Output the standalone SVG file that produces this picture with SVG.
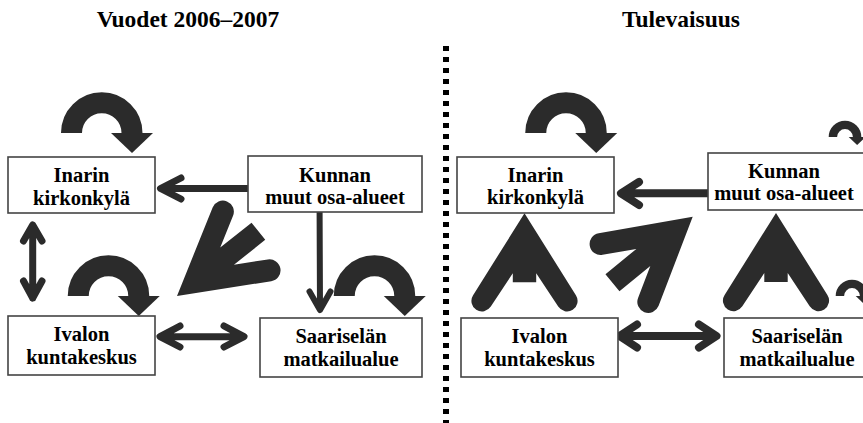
<svg xmlns="http://www.w3.org/2000/svg" width="863" height="423" viewBox="0 0 863 423">
<style>
  .box{fill:#fff;stroke:#444;stroke-width:1.6}
  .t{font-family:"Liberation Serif","Times New Roman",serif;font-weight:bold;font-size:20.5px;fill:#000;text-anchor:middle}
  .title{font-family:"Liberation Serif","Times New Roman",serif;font-weight:bold;font-size:23.5px;fill:#000;text-anchor:middle}
  .ln{fill:none;stroke:#2b2b2b;stroke-linecap:round;stroke-linejoin:round}
  .sh{fill:#2b2b2b}
</style>
<defs>
  <path id="fan" d="M0 0 L83 47.1 A11 11 0 0 0 93.8 27.9 L64 11 L104 11 L104 -11 L64 -11 L93.8 -27.9 A11 11 0 0 0 83 -47.1 Z"/>
  <path id="aglyph" d="M0 0 L81.9 51.4 A10.5 10.5 0 0 0 93.3 33.7 L60 11.7 L69 11.7 L69 -11.7 L60 -11.7 L93.3 -33.7 A10.5 10.5 0 0 0 81.9 -51.4 Z"/>
  <g id="uturn">
    <path d="M-30.25 0 A30.25 30.25 0 0 1 30.25 0" style="fill:none;stroke:#2b2b2b;stroke-width:21"/>
    <path d="M9.25 0 L51.25 0 L30.25 20 Z" style="fill:#2b2b2b"/>
  </g>
</defs>

<text class="title" x="188" y="27">Vuodet 2006–2007</text>
<text class="title" x="681" y="27">Tulevaisuus</text>

<line x1="446" y1="46" x2="446" y2="423" stroke="#000" stroke-width="6" stroke-dasharray="5 6"/>

<g id="connectors">
  <!-- left panel -->
  <use href="#uturn" x="101.75" y="133"/>
  <use href="#uturn" x="108.5" y="296"/>
  <use href="#uturn" x="374.5" y="296"/>
  <use href="#fan" class="sh" transform="translate(177 296) rotate(-38.5)"/>
  <path class="ln" stroke-width="7" d="M248 188.5 L161 188.5 M181 178 L160.5 188.5 L181 199"/>
  <path class="ln" stroke-width="6" d="M319.6 212 L320 309 M309.5 291.5 L320 310 L330.5 291.5"/>
  <path class="ln" stroke-width="7" d="M32.7 226 L32.7 298 M23.5 241 L32.7 225 L42 241 M23.5 281 L32.7 298 L42 281"/>
  <path class="ln" stroke-width="7" d="M161 336.7 L243 336.7 M180 326 L160 336.7 L180 347 M224 326 L244 336.7 L224 347"/>
  <!-- right panel -->
  <use href="#uturn" x="566" y="133"/>
  <g transform="translate(845 137) scale(0.4)"><use href="#uturn"/></g>
  <g transform="translate(852 296) scale(0.4)"><use href="#uturn"/></g>
  <use href="#aglyph" class="sh" transform="translate(524.5 213.3) rotate(90)"/>
  <use href="#aglyph" class="sh" transform="translate(776 213) rotate(90)"/>
  <use href="#fan" class="sh" transform="translate(692.7 216.7) rotate(140.5)"/>
  <path class="ln" stroke-width="8" d="M708 193.3 L622 193.3 M639 182 L621 193.3 L639 205"/>
  <path class="ln" stroke-width="8" d="M621 336 L715 336 M637 324.5 L619.5 336 L637 347.5 M699 324.5 L716.5 336 L699 347.5"/>
</g>

<g id="inarin-l"><rect class="box" x="8" y="157" width="147" height="56"/><text class="t" x="81.5" y="182">Inarin</text><text class="t" x="81.5" y="205">kirkonkylä</text></g>
<g id="kunnan-l"><rect class="box" x="248" y="156" width="174" height="56"/><text class="t" x="335" y="181.5">Kunnan</text><text class="t" x="335" y="203.5">muut osa-alueet</text></g>
<g id="ivalon-l"><rect class="box" x="8" y="316" width="147" height="59"/><text class="t" x="81.5" y="341">Ivalon</text><text class="t" x="81.5" y="363.5">kuntakeskus</text></g>
<g id="saariselka-l"><rect class="box" x="260" y="318" width="162" height="59"/><text class="t" x="341" y="343">Saariselän</text><text class="t" x="341" y="366">matkailualue</text></g>

<g id="inarin-r"><rect class="box" x="457" y="157" width="157" height="56"/><text class="t" x="535.5" y="182">Inarin</text><text class="t" x="535.5" y="204">kirkonkylä</text></g>
<g id="kunnan-r"><rect class="box" x="708" y="153" width="170" height="57"/><text class="t" x="784" y="178">Kunnan</text><text class="t" x="784" y="200">muut osa-alueet</text></g>
<g id="ivalon-r"><rect class="box" x="461" y="318" width="157" height="59"/><text class="t" x="539.5" y="343">Ivalon</text><text class="t" x="539.5" y="366">kuntakeskus</text></g>
<g id="saariselka-r"><rect class="box" x="724" y="318" width="150" height="59"/><text class="t" x="797" y="343">Saariselän</text><text class="t" x="797" y="366">matkailualue</text></g>
</svg>
